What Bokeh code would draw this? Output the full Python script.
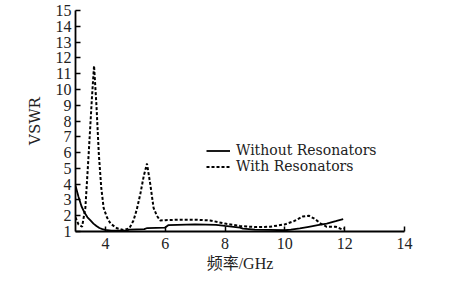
from bokeh.plotting import figure
from bokeh.models import Legend, LegendItem, FixedTicker, Range1d
from bokeh.embed import file_html
from bokeh.resources import INLINE

# Without Resonators (solid)
f_without = [3.0, 3.1, 3.2, 3.3, 3.4, 3.5, 3.6, 3.7, 3.8, 3.9, 4.0, 4.2, 4.4, 4.7, 4.8,
             5.3, 5.4, 6.0, 6.1, 7.0, 7.7, 8.0, 8.5, 8.6, 9.0, 9.5, 10.0, 10.2, 10.5,
             10.8, 11.1, 11.4, 11.7, 11.95]
v_without = [3.9, 3.2, 2.6, 2.2, 1.9, 1.7, 1.5, 1.35, 1.22, 1.15, 1.1, 1.06, 1.05, 1.06, 1.12,
             1.15, 1.22, 1.25, 1.4, 1.45, 1.42, 1.35, 1.25, 1.18, 1.12, 1.1, 1.08, 1.12, 1.2,
             1.3, 1.4, 1.5, 1.65, 1.78]

# With Resonators (dotted)
f_with = [3.0, 3.1, 3.22, 3.33, 3.44, 3.55, 3.62, 3.7, 3.78, 3.86, 3.94, 4.05, 4.17, 4.39,
          4.6, 4.8, 4.94, 5.05, 5.17, 5.28, 5.39, 5.5, 5.61, 5.72, 5.83, 6.0, 6.5, 7.0,
          7.5, 8.0, 8.5, 9.0, 9.5, 10.0, 10.3, 10.6, 10.8, 11.0, 11.2, 11.4, 11.7, 11.9, 12.0]
v_with = [1.9, 1.45, 1.3, 2.5, 5.9, 9.5, 11.5, 9.0, 5.9, 3.8, 2.5, 1.9, 1.5, 1.2,
          1.1, 1.2, 1.7, 2.4, 3.4, 4.5, 5.3, 4.0, 2.5, 2.0, 1.7, 1.72, 1.75, 1.75,
          1.7, 1.5, 1.35, 1.28, 1.3, 1.45, 1.65, 1.95, 2.0, 1.8, 1.5, 1.3, 1.3, 1.15, 1.2]

x_ticks = [4, 6, 8, 10, 12, 14]
y_ticks = list(range(1, 16))

SERIF = "'Liberation Serif', 'Times New Roman', serif"
WIDE_SERIF = "'DejaVu Serif', serif"
CJK = "'Liberation Serif', 'Noto Sans CJK SC', serif"

p = figure(width=452, height=293, output_backend="svg", toolbar_location=None,
           x_range=Range1d(3, 14), y_range=Range1d(1, 15),
           min_border_left=75, min_border_right=48, min_border_top=10, min_border_bottom=62)

p.outline_line_color = None
p.xgrid.grid_line_color = None
p.ygrid.grid_line_color = None
p.background_fill_color = "white"
p.border_fill_color = "white"

r1 = p.line(f_without, v_without, line_color="black", line_width=1.8)
r2 = p.line(f_with, v_with, line_color="black", line_width=2, line_dash="3 2")

for ax in (p.xaxis[0], p.yaxis[0]):
    ax.axis_line_color = "black"
    ax.axis_line_width = 1.8
    ax.major_tick_in = 5
    ax.major_tick_out = 0
    ax.major_tick_line_width = 1.5
    ax.minor_tick_line_color = None
    ax.major_label_text_font = SERIF
    ax.major_label_text_font_size = "16px"
    ax.major_label_text_color = "#222222"
    ax.axis_label_text_font_style = "normal"
    ax.axis_label_text_color = "#222222"

p.xaxis.ticker = FixedTicker(ticks=x_ticks)
p.yaxis.ticker = FixedTicker(ticks=y_ticks)
p.xaxis.major_label_standoff = 6
p.yaxis.major_label_standoff = 4
p.xaxis.axis_label = "频率/GHz"
p.xaxis.axis_label_text_font = CJK
p.xaxis.axis_label_text_font_size = "16px"
p.xaxis.axis_label_standoff = 3
p.yaxis.axis_label = "VSWR"
p.yaxis.axis_label_text_font = WIDE_SERIF
p.yaxis.axis_label_text_font_size = "15px"
p.yaxis.axis_label_standoff = 9

legend = Legend(items=[LegendItem(label="Without Resonators", renderers=[r1]),
                       LegendItem(label="With Resonators", renderers=[r2])],
                location=(131, 57), padding=0, spacing=0, margin=0,
                label_height=13, glyph_height=13, glyph_width=24, label_standoff=6,
                label_text_font=WIDE_SERIF, label_text_font_size="14px",
                label_text_color="#222222",
                border_line_alpha=0, background_fill_alpha=0)
p.add_layout(legend)

open("out.html", "w").write(file_html(p, INLINE))
